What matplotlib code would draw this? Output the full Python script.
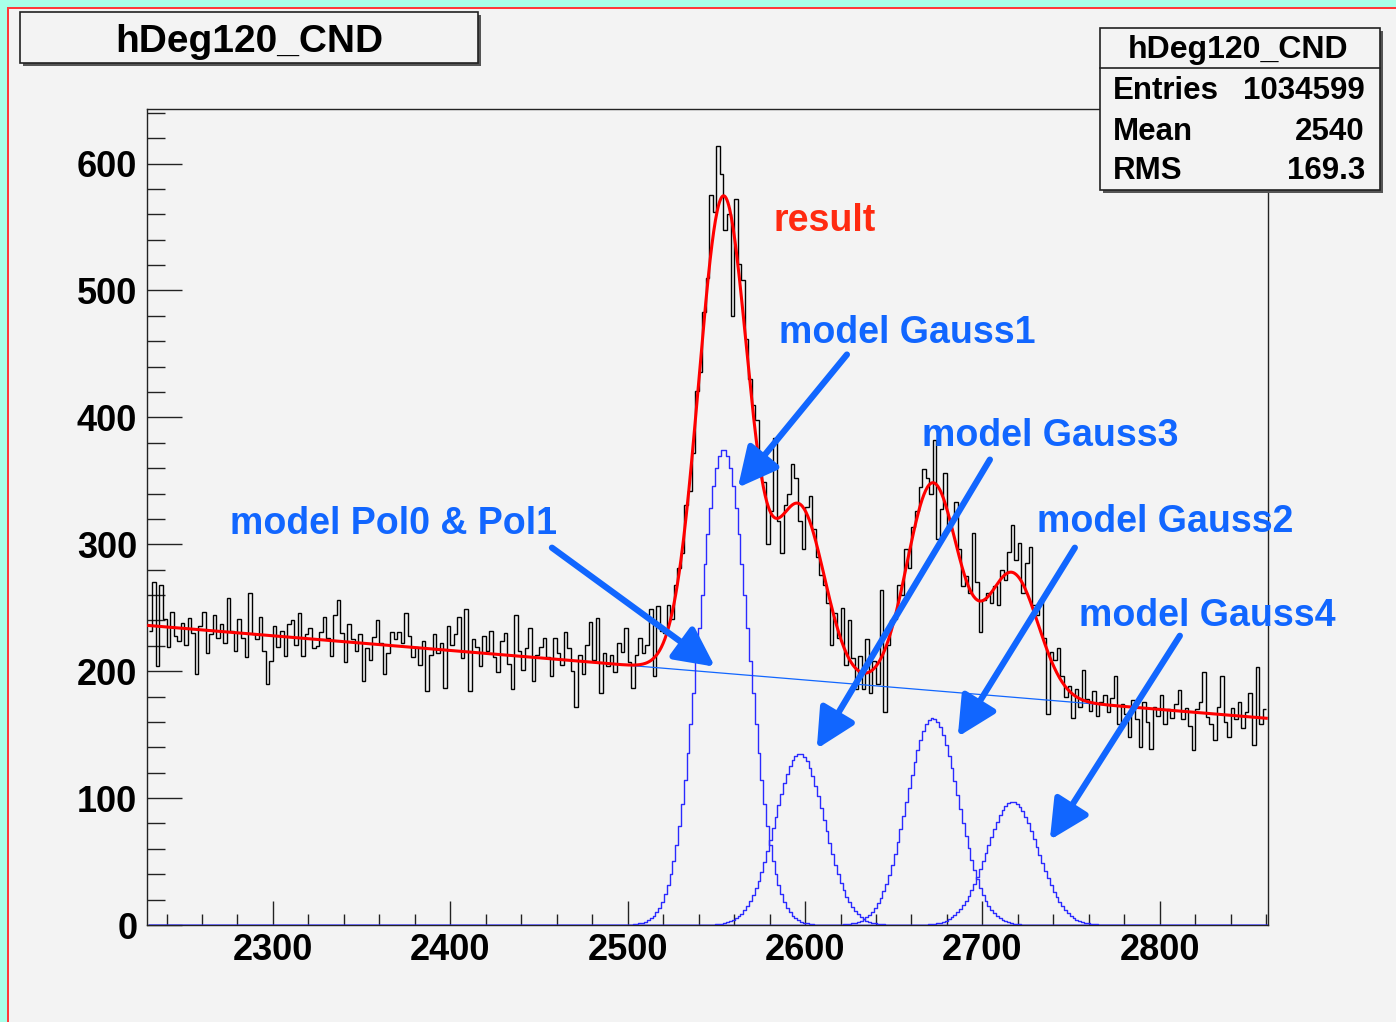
import matplotlib
matplotlib.use("Agg")
import matplotlib.pyplot as plt
from matplotlib.patches import Rectangle
from matplotlib.ticker import MultipleLocator
import numpy as np

W, H = 1396, 1022

# histogram hDeg120_CND, 2-unit bins from 2230 to 2860
bin_lo, bin_hi, bin_w = 2230, 2860, 2
counts = [
    232, 270, 204, 268, 241, 219, 247, 228, 224, 238,
    221, 242, 230, 198, 236, 247, 214, 229, 244, 226,
    237, 222, 258, 232, 216, 241, 226, 211, 262, 229,
    225, 243, 216, 190, 208, 236, 219, 232, 212, 237,
    240, 221, 246, 212, 229, 234, 218, 220, 231, 243,
    226, 212, 244, 256, 230, 207, 237, 225, 216, 229,
    192, 218, 209, 227, 240, 222, 198, 214, 231, 225,
    231, 222, 246, 228, 211, 219, 205, 224, 184, 213,
    229, 214, 222, 187, 236, 221, 229, 243, 210, 249,
    184, 225, 219, 204, 228, 216, 232, 211, 199, 224,
    230, 206, 186, 244, 216, 201, 218, 234, 192, 213,
    219, 226, 211, 196, 226, 214, 205, 231, 218, 200,
    172, 213, 198, 221, 239, 209, 242, 183, 214, 204,
    213, 199, 222, 215, 234, 207, 187, 213, 226, 214,
    221, 249, 196, 251, 232, 230, 252, 241, 268, 281,
    293, 331, 342, 372, 421, 436, 483, 510, 575, 562,
    614, 592, 548, 560, 480, 572, 521, 508, 462, 430,
    410, 398, 362, 349, 300, 326, 384, 318, 293, 331,
    340, 363, 352, 318, 296, 329, 338, 312, 290, 276,
    268, 254, 221, 246, 226, 250, 205, 240, 210, 186,
    212, 186, 225, 183, 208, 190, 264, 168, 221, 240,
    241, 268, 260, 296, 281, 314, 326, 345, 359, 352,
    340, 382, 304, 328, 356, 311, 318, 333, 296, 267,
    275, 262, 309, 270, 231, 256, 262, 254, 267, 252,
    280, 272, 294, 315, 288, 301, 262, 285, 298, 252,
    244, 256, 226, 166, 215, 209, 218, 196, 180, 188,
    163, 186, 172, 201, 178, 169, 184, 165, 176, 181,
    168, 179, 196, 158, 174, 166, 148, 177, 162, 140,
    176, 160, 139, 172, 165, 181, 158, 170, 163, 174,
    185, 162, 171, 157, 138, 170, 176, 199, 164, 158,
    146, 172, 196, 160, 148, 171, 162, 176, 155, 168,
    183, 142, 203, 158, 170,
]

# fit model (pol1 background + 4 gaussians), parameters
bg_at_2230 = 236.0
bg_slope = -0.116
g_means = [2554, 2597, 2672, 2717]
g_amps = [375, 135, 163, 97]
g_sigmas = [14.0, 14.0, 14.5, 14.5]

stats_names = ["Entries", "Mean", "RMS"]
stats_values = ["1034599", "2540", "169.3"]

hist_title = "hDeg120_CND"

BLUE = "#1166ff"
FONT = "Liberation Sans"


def fx(px):
    return px / W


def fy(py):
    return 1 - py / H


def bg(x):
    return bg_at_2230 + bg_slope * (x - 2230)


def gauss(x, m, a, s):
    return a * np.exp(-(x - m) ** 2 / (2 * s * s))


plt.rcParams["font.family"] = [FONT, "DejaVu Sans"]
plt.rcParams["font.weight"] = "bold"

fig = plt.figure(figsize=(W / 100, H / 100), dpi=100, facecolor="#f3f3f3")

# pad border (cyan + red line)
fig.add_artist(Rectangle((0, fy(7)), 1, 7 / H, transform=fig.transFigure,
                         color="#a8ffe8", lw=0))
fig.add_artist(Rectangle((0, 0), 7 / W, 1, transform=fig.transFigure,
                         color="#a8ffe8", lw=0))
fig.add_artist(Rectangle((7 / W, fy(9)), 1, 2 / H, transform=fig.transFigure,
                         color="#ff3a3a", lw=0))
fig.add_artist(Rectangle((7 / W, 0), 2 / W, fy(7), transform=fig.transFigure,
                         color="#ff3a3a", lw=0))

ax = fig.add_axes([fx(147), fy(925), (1268 - 147) / W, (925 - 109) / H])
ax.set_facecolor("#f3f3f3")

edges = np.arange(bin_lo, bin_hi + bin_w, bin_w)
ax.stairs(counts, edges, baseline=None, color="black", lw=1.0, zorder=3)

xs = np.arange(bin_lo, bin_hi + 0.5, 0.5)
xb = np.arange(bin_lo, bin_hi + 1.6, 1.6)
ax.plot([bin_lo, bin_hi], [bg(bin_lo), bg(bin_hi)], color=BLUE, lw=0.9, zorder=4)
for m, a, s in zip(g_means, g_amps, g_sigmas):
    ax.plot(xb, gauss(xb, m, a, s), color="#2a2aff", lw=1.0,
            drawstyle="steps-mid", zorder=4)
total = bg(xs)
for m, a, s in zip(g_means, g_amps, g_sigmas):
    total = total + gauss(xs, m, a, s)
ax.plot(xs, total, color="#ff0000", lw=2.2, zorder=5)

ax.set_xlim(2229, 2861)
ax.set_ylim(0, 643)

ax.xaxis.set_major_locator(MultipleLocator(100))
ax.xaxis.set_minor_locator(MultipleLocator(20))
ax.yaxis.set_major_locator(MultipleLocator(100))
ax.yaxis.set_minor_locator(MultipleLocator(20))
ax.tick_params(axis="y", which="major", direction="in", length=25, width=1,
               color="#222222", labelsize=26, pad=7)
ax.tick_params(axis="y", which="minor", direction="in", length=13, width=1,
               color="#222222")
ax.tick_params(axis="x", which="major", direction="in", length=17, width=1,
               color="#222222", labelsize=26, pad=6)
ax.tick_params(axis="x", which="minor", direction="in", length=8, width=1,
               color="#222222")
for lab in ax.get_xticklabels() + ax.get_yticklabels():
    lab.set_fontweight("bold")
for sp in ax.spines.values():
    sp.set_color("#222222")
    sp.set_linewidth(1.0)

# labels and arrows
ax.text(2582.1, 547.2, "result", color="#ff2a10", fontsize=27,
        fontweight="bold", va="baseline", zorder=6)
labels = [
    ("model Gauss1", 2585.5, 458.9, (2623.6, 449.5), (2562.1, 344.6)),
    ("model Gauss3", 2666.1, 377.7, (2704.2, 366.7), (2606.6, 138.8)),
    ("model Pol0 & Pol1", 2275.7, 308.3, (2457.3, 297.3), (2549.2, 203.5)),
    ("model Gauss2", 2731.0, 309.9, (2752.1, 297.3), (2686.1, 148.3)),
    ("model Gauss4", 2754.7, 235.7, (2811.3, 227.9), (2738.0, 67.0)),
]
for txt, tx, ty, start, tip in labels:
    ax.text(tx, ty, txt, color=BLUE, fontsize=27, fontweight="bold",
            va="baseline", zorder=6)
    ax.annotate("", xy=tip, xytext=start,
                arrowprops=dict(arrowstyle="-|>,head_length=0.6,head_width=0.3",
                                color=BLUE, lw=4.5, mutation_scale=40,
                                shrinkA=0, shrinkB=0),
                zorder=6)

# title box
fig.add_artist(Rectangle((fx(23), fy(66)), (478 - 20) / W, (63 - 12) / H,
                         transform=fig.transFigure, color="#555555", lw=0))
fig.add_artist(Rectangle((fx(20), fy(63)), (478 - 20) / W, (63 - 12) / H,
                         transform=fig.transFigure, facecolor="#f3f3f3",
                         edgecolor="#222222", lw=1.2))
fig.text(fx(249), fy(52), hist_title, fontsize=28, fontweight="bold",
         ha="center", va="baseline")

# stats box
fig.add_artist(Rectangle((fx(1103), fy(193)), (1380 - 1100) / W, (190 - 28) / H,
                         transform=fig.transFigure, color="#555555", lw=0))
fig.add_artist(Rectangle((fx(1100), fy(190)), (1380 - 1100) / W, (190 - 28) / H,
                         transform=fig.transFigure, facecolor="#f3f3f3",
                         edgecolor="#222222", lw=1.2))
fig.add_artist(plt.Line2D([fx(1100), fx(1380)], [fy(68), fy(68)],
                          transform=fig.transFigure, color="#222222", lw=1.2))
fig.text(fx(1238), fy(58), hist_title, fontsize=23, fontweight="bold",
         ha="center", va="baseline")
row_base = [99, 140, 179]
for name, val, py in zip(stats_names, stats_values, row_base):
    fig.text(fx(1113), fy(py), name, fontsize=22.5, fontweight="bold",
             ha="left", va="baseline")
    fig.text(fx(1365), fy(py), val, fontsize=22.5, fontweight="bold",
             ha="right", va="baseline")

fig.savefig("out.png", dpi=100, facecolor=fig.get_facecolor())
